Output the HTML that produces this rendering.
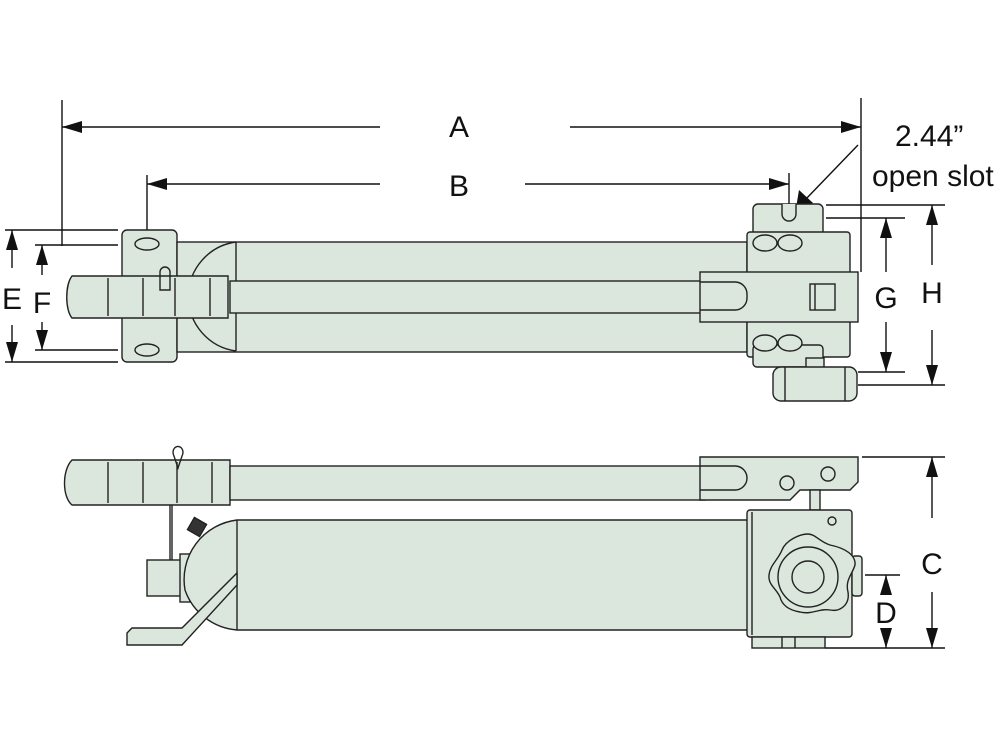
<!DOCTYPE html>
<html><head><meta charset="utf-8"><style>
html,body{margin:0;padding:0;background:#fff;overflow:hidden;}
svg{display:block;}
text{font-family:"Liberation Sans",sans-serif;fill:#111;}
</style></head><body>
<svg width="1000" height="750" viewBox="0 0 1000 750" xmlns="http://www.w3.org/2000/svg">
<g fill="none" stroke="#111" stroke-width="1.4">
<line x1="62" y1="100" x2="62" y2="246"/>
<line x1="861" y1="98" x2="861" y2="272"/>
<line x1="62" y1="127" x2="380" y2="127"/>
<line x1="570" y1="127" x2="861" y2="127"/>
<line x1="147" y1="175" x2="147" y2="232"/>
<line x1="789" y1="173" x2="789" y2="206"/>
<line x1="147" y1="184" x2="380" y2="184"/>
<line x1="525" y1="184" x2="789" y2="184"/>
<line x1="5" y1="230" x2="118" y2="230"/>
<line x1="5" y1="362" x2="118" y2="362"/>
<line x1="35" y1="245" x2="118" y2="245"/>
<line x1="35" y1="350" x2="118" y2="350"/>
<line x1="12" y1="230" x2="12" y2="268"/><line x1="12" y1="325" x2="12" y2="362"/>
<line x1="42" y1="245" x2="42" y2="275"/><line x1="42" y1="322" x2="42" y2="350"/>
<line x1="826" y1="205" x2="945" y2="205"/>
<line x1="826" y1="218" x2="905" y2="218"/>
<line x1="858" y1="372" x2="905" y2="372"/>
<line x1="858" y1="385" x2="945" y2="385"/>
<line x1="886" y1="218" x2="886" y2="272"/><line x1="886" y1="322" x2="886" y2="372"/>
<line x1="932" y1="205" x2="932" y2="265"/><line x1="932" y1="330" x2="932" y2="385"/>
<line x1="862" y1="457" x2="945" y2="457"/>
<line x1="825" y1="648" x2="945" y2="648"/>
<line x1="865" y1="575" x2="900" y2="575"/>
<line x1="932" y1="457" x2="932" y2="518"/><line x1="932" y1="592" x2="932" y2="648"/>
<line x1="886" y1="575" x2="886" y2="595"/><line x1="886" y1="632" x2="886" y2="648"/>
<line x1="858" y1="145" x2="805" y2="200"/>
</g>
<g fill="#111">
<path d="M62,127 l20,-6 v12z"/><path d="M861,127 l-20,-6 v12z"/>
<path d="M147,184 l20,-6 v12z"/><path d="M789,184 l-20,-6 v12z"/>
<path d="M12,230 l-6,20 h12z"/><path d="M12,362 l-6,-20 h12z"/>
<path d="M42,245 l-6,20 h12z"/><path d="M42,350 l-6,-20 h12z"/>
<path d="M886,218 l-6,20 h12z"/><path d="M886,372 l-6,-20 h12z"/>
<path d="M932,205 l-6,20 h12z"/><path d="M932,385 l-6,-20 h12z"/>
<path d="M932,457 l-6,20 h12z"/><path d="M932,648 l-6,-20 h12z"/>
<path d="M886,575 l-6,20 h12z"/><path d="M886,648 l-6,-20 h12z"/>
<path d="M795,214 l4,-24 l14,13z"/>
</g>
<g font-size="30">
<text x="459" y="137" text-anchor="middle">A</text>
<text x="459" y="196" text-anchor="middle">B</text>
<text x="12" y="309" text-anchor="middle">E</text>
<text x="42" y="313" text-anchor="middle">F</text>
<text x="886" y="308" text-anchor="middle">G</text>
<text x="932" y="303" text-anchor="middle">H</text>
<text x="932" y="574" text-anchor="middle">C</text>
<text x="886" y="623" text-anchor="middle">D</text>
<text x="895" y="146">2.44”</text>
<text x="872" y="186">open slot</text>
</g>

<g fill="#dbe6dd" stroke="#222" stroke-width="1.4">
<rect x="122" y="230" width="55" height="132" rx="5"/>
<rect x="177" y="242" width="570" height="110"/>
<path d="M236,242 A55,55 0 0 0 236,351" fill="none"/>
<line x1="236" y1="242" x2="236" y2="351"/>
<rect x="230" y="281" width="480" height="32"/>
<ellipse cx="147" cy="244" rx="12" ry="6"/>
<ellipse cx="147" cy="350" rx="12" ry="6"/>
<path d="M72,276 C65,285 65,310 72,318 H228 V276 Z"/>
<g fill="none"><line x1="108" y1="278" x2="108" y2="316"/><line x1="143" y1="278" x2="143" y2="316"/><line x1="175" y1="278" x2="175" y2="316"/><line x1="210" y1="278" x2="210" y2="316"/></g>
<path d="M160,276 v-4 a5,5 0 0 1 10,0 v18 h-10z" fill="none"/>
<rect x="753" y="204" width="70" height="40" rx="5"/>
<rect x="747" y="232" width="103" height="125" rx="3"/>
<rect x="753" y="345" width="70" height="22" rx="4"/>
<path d="M782,204 v10 a7,7 0 0 0 14,0 v-10" />
<ellipse cx="765" cy="243" rx="12" ry="8"/><ellipse cx="790" cy="243" rx="12" ry="8"/>
<ellipse cx="765" cy="343" rx="12" ry="8"/><ellipse cx="790" cy="343" rx="12" ry="8"/>
<rect x="700" y="272" width="158" height="50"/>
<path d="M700,282 h35 a12,12 0 0 1 12,12 v4 a12,12 0 0 1 -12,12 h-35" fill="none"/>
<rect x="810" y="284" width="25" height="26"/>
<line x1="815" y1="284" x2="815" y2="310"/>
<rect x="806" y="358" width="18" height="12"/>
<rect x="773" y="367" width="84" height="34" rx="8"/>
<line x1="785" y1="367" x2="785" y2="401"/><line x1="845" y1="367" x2="845" y2="401"/>

<path d="M72,460 C62,470 62,497 72,505 H230 V460 Z"/>
<g fill="none"><line x1="108" y1="462" x2="108" y2="503"/><line x1="143" y1="462" x2="143" y2="503"/><line x1="177" y1="462" x2="177" y2="503"/><line x1="212" y1="462" x2="212" y2="503"/></g>
<rect x="230" y="466" width="475" height="34"/>
<path d="M700,457 H858 V482 L850,490 H800 L790,500 H700 Z"/>
<path d="M700,466 h35 a12,12 0 0 1 12,12 v0 a12,12 0 0 1 -12,12 h-35" fill="none"/>
<circle cx="787" cy="483" r="7"/><circle cx="828" cy="474" r="7"/>
<rect x="810" y="490" width="10" height="20"/>
<path d="M174,456 a5,6 0 1 1 8,0 l-4,12 z" fill="none"/>
<line x1="170" y1="505" x2="170" y2="590" fill="none"/>
<line x1="172" y1="505" x2="172" y2="590" fill="none"/>
<rect x="190" y="520" width="14" height="14" fill="#333" transform="rotate(30 197 527)"/>
<rect x="147" y="560" width="36" height="36"/>
<rect x="180" y="554" width="10" height="48"/>
<path d="M237,520 H750 V630 H237 A60,60 0 0 1 185,590 A60,60 0 0 1 237,520 Z"/>
<line x1="237" y1="520" x2="237" y2="630"/>
<path d="M127,633 l5,-5 h50 l55,-55 v12 l-55,60 h-55 z"/>
<rect x="747" y="510" width="105" height="127" rx="3"/>
<line x1="752" y1="512" x2="752" y2="635"/>
<rect x="752" y="637" width="73" height="11"/>
<line x1="782" y1="637" x2="782" y2="648"/><line x1="795" y1="637" x2="795" y2="648"/>
<circle cx="832" cy="521" r="4"/>
<rect x="852" y="556" width="10" height="40" rx="3"/>
<path d="M808,534 C815,534 820,542 830,545 C845,548 856,555 855,565 C852,575 845,580 848,592 C850,605 840,612 830,610 C820,608 812,615 800,612 C788,610 782,605 780,597 C776,588 768,585 769,575 C770,565 778,560 782,550 C786,540 800,534 808,534 Z"/>
<circle cx="808" cy="577" r="30"/>
<circle cx="808" cy="577" r="16"/>
</g>
</svg>
</body></html>
